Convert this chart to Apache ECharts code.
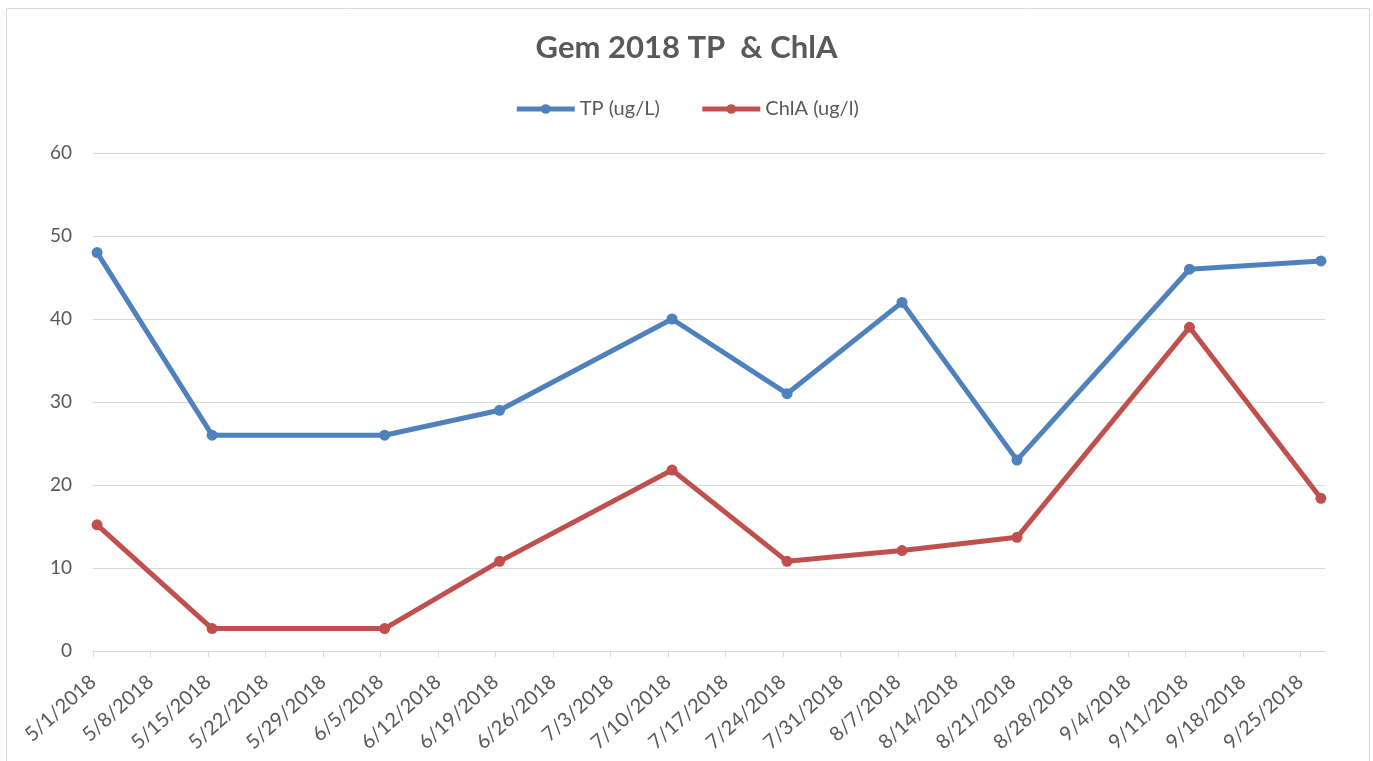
<!DOCTYPE html>
<html>
<head>
<meta charset="utf-8">
<script src="https://cdn.jsdelivr.net/npm/echarts@6/dist/echarts.min.js"></script>
<style>
  html, body { margin: 0; padding: 0; background: #fff; }
  #chart { width: 1373px; height: 761px; }
</style>
</head>
<body>
<div id="chart"></div>
<script>
// Sample dates and measured values
const dates = ['2018-05-01', '2018-05-15', '2018-06-05', '2018-06-19', '2018-07-10',
  '2018-07-24', '2018-08-07', '2018-08-21', '2018-09-11', '2018-09-27']
const tp = [48, 26, 26, 29, 40, 31, 42, 23, 46, 47]
const chla = [15.2, 2.7, 2.7, 10.8, 21.8, 10.8, 12.1, 13.7, 39.0, 18.4]
const startDate = '2018-05-01'
const axisDays = 150      // axis spans 5/1 .. 9/27, one slot per day
const weekTicks = [0, 7, 14, 21, 28, 35, 42, 49, 56, 63, 70, 77, 84, 91, 98, 105, 112, 119, 126, 133, 140, 147]

const DAY = 86400000
const t0 = Date.parse(startDate + 'T00:00:00Z')
const dayOf = s => Math.round((Date.parse(s + 'T00:00:00Z') - t0) / DAY)
// Excel date axis: points sit in the middle of each day's slot
const pts = vals => dates.map((d, i) => [dayOf(d) + 0.5, vals[i]])
const fmtDay = v => {
  const d = new Date(t0 + v * DAY)
  return (d.getUTCMonth() + 1) + '/' + d.getUTCDate() + '/' + d.getUTCFullYear()
}

const FONT = 'Lato, "Open Sans", sans-serif'
const chart = echarts.init(document.getElementById('chart'))
chart.setOption({
  animation: false,
  title: {
    text: 'Gem 2018 TP  & ChlA', left: 'center', top: 27,
    textStyle: { fontFamily: FONT, fontSize: 31, fontWeight: 'bold', color: '#595959' }
  },
  legend: {
    top: 94, left: 'center', itemWidth: 58, itemHeight: 12, itemGap: 40,
    lineStyle: { width: 5 },
    textStyle: { fontFamily: FONT, fontSize: 20, color: '#595959' }
  },
  grid: { left: 93, right: 48, top: 153, bottom: 110 },
  graphic: [{
    type: 'rect', shape: { x: 6.5, y: 8.5, width: 1363, height: 770 },
    style: { fill: 'none', stroke: '#d9d9d9', lineWidth: 1 }, silent: true
  }],
  xAxis: {
    type: 'value', min: 0, max: axisDays,
    splitLine: { show: false },
    axisLine: { show: true, lineStyle: { color: '#d9d9d9', width: 1 } },
    axisTick: { show: true, customValues: weekTicks, length: 6, lineStyle: { color: '#d9d9d9' } },
    axisLabel: {
      customValues: weekTicks, rotate: 42, margin: 28, formatter: fmtDay,
      fontFamily: FONT, fontSize: 20, color: '#595959'
    }
  },
  yAxis: {
    type: 'value', min: 0, max: 60, interval: 10,
    axisLine: { show: false }, axisTick: { show: false },
    splitLine: { lineStyle: { color: '#d9d9d9', width: 1 } },
    axisLabel: { fontFamily: FONT, fontSize: 19, color: '#595959', margin: 21 }
  },
  series: [
    { name: 'TP (ug/L)', type: 'line', data: pts(tp), symbol: 'circle', symbolSize: 11,
      lineStyle: { width: 5, color: '#4f81bd' }, itemStyle: { color: '#4f81bd' } },
    { name: 'ChlA (ug/l)', type: 'line', data: pts(chla), symbol: 'circle', symbolSize: 11,
      lineStyle: { width: 5, color: '#c0504d' }, itemStyle: { color: '#c0504d' } }
  ]
})
</script>
</body>
</html>
